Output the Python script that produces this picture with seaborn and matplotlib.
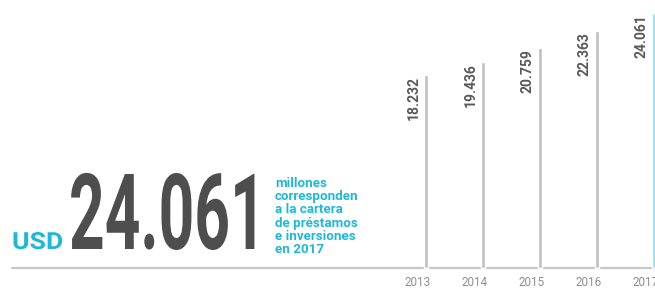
import matplotlib
matplotlib.use("Agg")
import matplotlib.pyplot as plt
import seaborn as sns
import pandas as pd
from matplotlib.patheffects import AbstractPathEffect
from matplotlib.transforms import Affine2D, Bbox
from matplotlib.text import Text

years = ["2013", "2014", "2015", "2016", "2017"]
values = [18232, 19436, 20759, 22363, 24061]
bar_colors = ["#c0c0c0", "#c0c0c0", "#c0c0c0", "#c0c0c0", "#8fe3f0"]
big_number = "24.061"
currency = "USD"
caption_lines = ["millones", "corresponden", "a la cartera", "de préstamos",
                 "e inversiones", "en 2017"]

sns.set_theme(style="white")
plt.rcParams["font.family"] = ["Roboto", "DejaVu Sans"]


class Condense(AbstractPathEffect):
    """Draw the text glyphs horizontally scaled (condensed / extended face)."""
    def __init__(self, sx):
        super().__init__()
        self.sx = sx

    def draw_path(self, renderer, gc, tpath, affine, rgbFace=None):
        new_affine = Affine2D().scale(self.sx, 1.0) + affine
        renderer.draw_path(gc, tpath, new_affine, rgbFace)


class ScaledText(Text):
    """Text whose reported extent matches its horizontally scaled drawing."""
    def __init__(self, *args, sx=1.0, **kwargs):
        super().__init__(*args, **kwargs)
        self._sx = sx
        self.set_path_effects([Condense(sx)])

    def get_window_extent(self, renderer=None, dpi=None):
        bb = super().get_window_extent(renderer=renderer, dpi=dpi)
        x0 = bb.x0
        return Bbox([[x0, bb.y0], [x0 + bb.width * self._sx, bb.y1]])


W, H = 655, 290
fig = plt.figure(figsize=(W / 100, H / 100), dpi=100)
ax = fig.add_axes([0, 0, 1, 1])

df = pd.DataFrame({"year": years, "value": values})
sns.barplot(data=df, x="year", y="value", hue="year", palette=bar_colors,
            width=0.055, legend=False, ax=ax, saturation=1)

px_per_unit = 57.0
x0_px = 426.0
ax.set_xlim(-x0_px / px_per_unit, (W - x0_px) / px_per_unit)
base_px = 22.0
ypx = 0.01059
ax.set_ylim(-base_px / ypx, (H - base_px) / ypx)
ax.axis("off")

ax.axhline(0, xmin=12 / W, xmax=1, color="#c8c8c8", lw=1.6, zorder=0)

for i, (y, v) in enumerate(zip(years, values)):
    lab = f"{v:,}".replace(",", ".")
    ax.annotate(lab, xy=(i, v), xytext=(-5.5, -1), textcoords="offset pixels",
                rotation=90, ha="right", va="top", fontsize=10,
                fontweight="bold", color="#595959")
    ax.annotate(y, xy=(i, 0), xytext=(-8, -15), textcoords="offset pixels",
                ha="center", va="center", fontsize=8.4, color="#8f8f8f")


def fx(px):
    return px / W


def fy(py):
    return 1 - py / H


fig.add_artist(ScaledText(fx(69), fy(249), big_number, ha="left",
                          va="baseline", fontweight="bold", fontsize=76,
                          color="#4e4e4e", transform=fig.transFigure, sx=0.59))
fig.add_artist(ScaledText(fx(12), fy(249), currency, ha="left",
                          va="baseline", fontweight="bold", fontsize=17,
                          color="#1fb8d8", transform=fig.transFigure, sx=1.13))
fig.text(fx(275), fy(253), "\n".join(caption_lines), ha="left", va="baseline",
         fontweight="bold", fontsize=9.6, color="#1fb8d8", linespacing=1.02)

fig.savefig("out.png", dpi=100)
